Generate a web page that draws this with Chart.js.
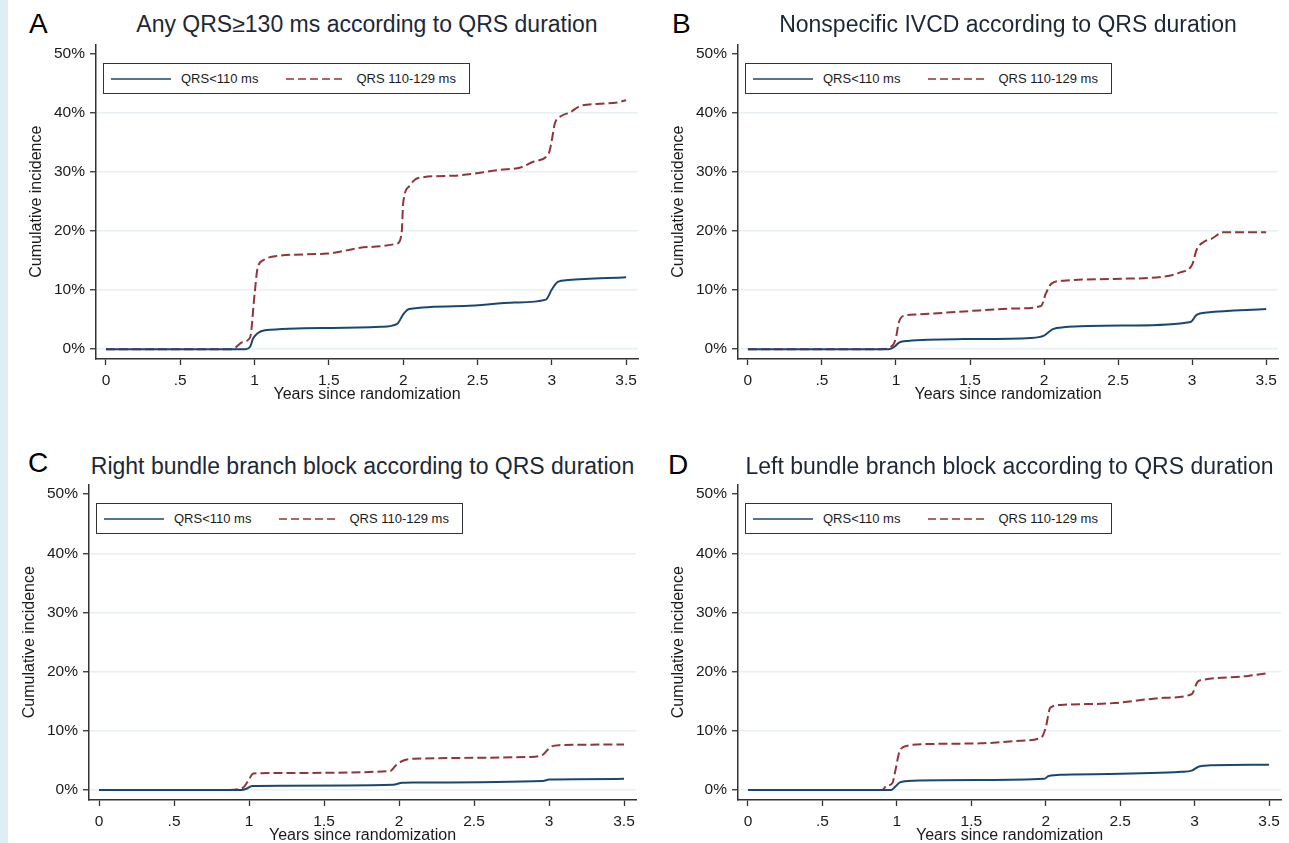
<!DOCTYPE html>
<html>
<head>
<meta charset="utf-8">
<title>Cumulative incidence according to QRS duration</title>
<script src="https://cdn.jsdelivr.net/npm/chart.js@4.4.1/dist/chart.umd.min.js"></script>
<style>
    body {
        margin: 0;
        width: 1289px;
        height: 843px;
        background: #fff;
        position: relative;
        overflow: hidden;
        font-family: "Liberation Sans", Arial, sans-serif;
    }
    .strip { position: absolute; left: 0; top: 0; width: 8px; height: 843px; background: #deeef4; }
    canvas { position: absolute; }
    .letter { position: absolute; font-size: 28px; line-height: 28px; color: #000; }
    .title { position: absolute; font-size: 23px; line-height: 23px; color: #1c2838; text-align: center; white-space: nowrap; }
    .legend {
        position: absolute;
        width: 367px;
        height: 31px;
        box-sizing: border-box;
        border: 1.5px solid #333;
        background: #fff;
        display: flex;
        align-items: center;
        font-size: 13px;
        color: #1a1a1a;
        padding-left: 7px;
    }
    .legend svg { display: block; margin-right: 10px; }
    .legend .gap { width: 28px; }
</style>
</head>
<body>
<div class="strip"></div>
<div id="root"></div>

<script>
// ================================================
// DATA
// ================================================

const yearTicks = [0, 0.5, 1, 1.5, 2, 2.5, 3, 3.5];
const yearTickLabels = ['0', '.5', '1', '1.5', '2', '2.5', '3', '3.5'];
const pctTicks = [0, 10, 20, 30, 40, 50];
const seriesLabels = ['QRS<110 ms', 'QRS 110-129 ms'];
const panelLetters = ['A', 'B', 'C', 'D'];
const panelTitles = [
    'Any QRS\u2265130 ms according to QRS duration',
    'Nonspecific IVCD according to QRS duration',
    'Right bundle branch block according to QRS duration',
    'Left bundle branch block according to QRS duration'
];

// A - any QRS >= 130 ms
const yearsA_short = [0, 0.94, 0.97, 0.99, 1.02, 1.07, 1.52, 1.85, 1.96, 2.0, 2.04, 2.41, 2.75, 2.96, 3.0, 3.04, 3.11, 3.5];
const incA_short   = [0, 0, 0.4, 1.8, 2.7, 3.2, 3.6, 3.8, 4.3, 5.9, 6.8, 7.3, 7.9, 8.4, 10.1, 11.4, 11.7, 12.2];
const yearsA_long  = [0, 0.85, 0.92, 0.97, 1.0, 1.02, 1.06, 1.15, 1.49, 1.76, 1.96, 1.99, 2.0, 2.04, 2.1, 2.34, 2.65, 2.79, 2.88, 2.98, 3.0, 3.02, 3.07, 3.12, 3.19, 3.32, 3.44, 3.5];
const incA_long    = [0, 0, 1.2, 2.0, 9.3, 13.7, 15.1, 15.8, 16.2, 17.3, 17.9, 19.8, 24.8, 27.6, 29.0, 29.4, 30.4, 30.8, 31.8, 33.2, 35.4, 38.2, 39.6, 40.1, 41.2, 41.6, 41.8, 42.2];

// B - nonspecific IVCD
const yearsB_short = [0, 0.95, 0.99, 1.02, 1.08, 1.46, 1.91, 2.0, 2.06, 2.13, 2.58, 2.99, 3.03, 3.1, 3.5];
const incB_short   = [0, 0, 0.4, 1.1, 1.4, 1.7, 1.9, 2.3, 3.4, 3.7, 4.0, 4.6, 5.8, 6.2, 6.8];
const yearsB_long  = [0, 0.9, 0.98, 1.0, 1.02, 1.06, 1.15, 1.46, 1.82, 1.98, 2.01, 2.05, 2.13, 2.47, 2.81, 2.92, 3.0, 3.03, 3.08, 3.13, 3.21, 3.5];
const incB_long    = [0, 0, 0.7, 2.0, 4.6, 5.7, 5.9, 6.4, 6.9, 7.3, 9.3, 11.1, 11.6, 11.9, 12.3, 13.0, 14.3, 16.8, 18.2, 18.7, 19.8, 19.8];

// C - right bundle branch block
const yearsC_short = [0, 0.95, 0.98, 1.02, 1.21, 1.96, 2.02, 2.1, 2.96, 3.0, 3.5];
const incC_short   = [0, 0, 0.2, 0.7, 0.75, 0.9, 1.25, 1.3, 1.55, 1.8, 1.9];
const yearsC_long  = [0, 0.85, 0.96, 0.99, 1.03, 1.21, 1.94, 1.98, 2.03, 2.1, 2.87, 2.96, 3.01, 3.07, 3.5];
const incC_long    = [0, 0, 0.4, 1.4, 2.8, 2.9, 3.2, 4.2, 5.0, 5.3, 5.6, 6.0, 7.3, 7.6, 7.7];

// D - left bundle branch block
const yearsD_short = [0, 0.96, 0.99, 1.02, 1.11, 1.56, 1.99, 2.02, 2.12, 2.91, 2.98, 3.03, 3.13, 3.5];
const incD_short   = [0, 0, 0.6, 1.3, 1.6, 1.7, 1.9, 2.4, 2.6, 3.1, 3.3, 4.0, 4.2, 4.3];
const yearsD_long  = [0, 0.9, 0.93, 0.97, 0.99, 1.02, 1.07, 1.23, 1.56, 1.86, 1.97, 2.0, 2.03, 2.1, 2.46, 2.8, 2.98, 3.02, 3.07, 3.36, 3.5];
const incD_long    = [0, 0, 0.7, 1.2, 3.3, 6.7, 7.5, 7.8, 7.9, 8.4, 8.9, 10.6, 13.9, 14.4, 14.7, 15.6, 16.2, 18.3, 18.7, 19.3, 19.8];

const panelSeries = [
    [[yearsA_short, incA_short], [yearsA_long, incA_long]],
    [[yearsB_short, incB_short], [yearsB_long, incB_long]],
    [[yearsC_short, incC_short], [yearsC_long, incC_long]],
    [[yearsD_short, incD_short], [yearsD_long, incD_long]]
];

// ================================================
// LAYOUT (plot area of each panel, in page pixels)
// ================================================

const layout = [
    { axisX: 96,  right: 638,  top: 40,  bottom: 359, titleTop: 13,  letterX: 29,  letterTop: 10 },
    { axisX: 738, right: 1278, top: 40,  bottom: 359, titleTop: 13,  letterX: 672, letterTop: 10 },
    { axisX: 89,  right: 636,  top: 480, bottom: 800, titleTop: 455, letterX: 28,  letterTop: 449 },
    { axisX: 738, right: 1281, top: 480, bottom: 800, titleTop: 455, letterX: 668, letterTop: 451 }
];

const Y_AXIS_W = 69;
const X_AXIS_H = 45;
const PAD = 10;

const NAVY = '#1a476f';
const MAROON = '#90353b';
const AXIS = '#333333';
const GRID = '#e8f0f3';
const TEXT = '#1a1a1a';
const FONT = '"Liberation Sans", Arial, sans-serif';

// ================================================
// HELPERS
// ================================================

function toPoints(xs, ys) {
    return xs.map((x, i) => ({ x: x, y: ys[i] }));
}

function legendSample(color, dashed) {
    const dash = dashed ? ' stroke-dasharray="8 4"' : '';
    return `<svg width="60" height="4"><line x1="0" y1="2" x2="60" y2="2" stroke="${color}" stroke-width="1.6"${dash}/></svg>`;
}

// ================================================
// PANELS
// ================================================

function createPanel(i) {
    const root = document.getElementById('root');
    const box = layout[i];

    // letter + title
    const letter = document.createElement('div');
    letter.className = 'letter';
    letter.style.left = box.letterX + 'px';
    letter.style.top = box.letterTop + 'px';
    letter.textContent = panelLetters[i];
    root.appendChild(letter);

    const title = document.createElement('div');
    title.className = 'title';
    title.style.left = (box.axisX - 100) + 'px';
    title.style.width = (box.right - box.axisX + 200) + 'px';
    title.style.top = box.titleTop + 'px';
    title.textContent = panelTitles[i];
    root.appendChild(title);

    // canvas
    const canvas = document.createElement('canvas');
    const w = box.right - box.axisX + Y_AXIS_W + PAD;
    const h = box.bottom - box.top + PAD + X_AXIS_H;
    canvas.width = w;
    canvas.height = h;
    canvas.style.left = (box.axisX - Y_AXIS_W) + 'px';
    canvas.style.top = (box.top - PAD) + 'px';
    root.appendChild(canvas);

    const series = panelSeries[i];

    new Chart(canvas, {
        type: 'line',
        data: {
            datasets: [
                {
                    label: seriesLabels[0],
                    data: toPoints(series[0][0], series[0][1]),
                    borderColor: NAVY,
                    borderWidth: 2,
                    pointRadius: 0,
                    cubicInterpolationMode: 'monotone',
                    fill: false
                },
                {
                    label: seriesLabels[1],
                    data: toPoints(series[1][0], series[1][1]),
                    borderColor: MAROON,
                    borderWidth: 2,
                    borderDash: [9, 4],
                    pointRadius: 0,
                    cubicInterpolationMode: 'monotone',
                    fill: false
                }
            ]
        },
        options: {
            responsive: false,
            animation: false,
            layout: { padding: { top: PAD, right: PAD, left: 0, bottom: 0 } },
            plugins: {
                legend: { display: false },
                tooltip: { enabled: false }
            },
            scales: {
                x: {
                    type: 'linear',
                    min: -0.067,
                    max: 3.58,
                    afterBuildTicks: function(scale) {
                        scale.ticks = yearTicks.map(v => ({ value: v }));
                    },
                    afterFit: function(scale) {
                        scale.height = X_AXIS_H;
                    },
                    border: { display: true, color: AXIS, width: 1.5 },
                    grid: {
                        drawOnChartArea: false,
                        drawTicks: true,
                        tickLength: 6,
                        tickColor: AXIS,
                        tickWidth: 1.3
                    },
                    ticks: {
                        autoSkip: false,
                        maxRotation: 0,
                        padding: 6,
                        color: TEXT,
                        font: { family: FONT, size: 15.5 },
                        callback: function(value) {
                            const k = yearTicks.indexOf(value);
                            return k >= 0 ? yearTickLabels[k] : '';
                        }
                    },
                    title: {
                        display: true,
                        text: 'Years since randomization',
                        color: TEXT,
                        padding: { top: 0, bottom: 0 },
                        font: { family: FONT, size: 16 }
                    }
                },
                y: {
                    type: 'linear',
                    min: -1.67,
                    max: 51.67,
                    afterBuildTicks: function(scale) {
                        scale.ticks = pctTicks.map(v => ({ value: v }));
                    },
                    afterFit: function(scale) {
                        scale.width = Y_AXIS_W;
                    },
                    border: { display: true, color: AXIS, width: 1.5 },
                    grid: {
                        color: ctx => (ctx.tick && ctx.tick.value === 50) ? 'rgba(0,0,0,0)' : GRID,
                        lineWidth: 1.5,
                        drawTicks: true,
                        tickLength: 6,
                        tickColor: AXIS,
                        tickWidth: 1.3
                    },
                    ticks: {
                        padding: 5,
                        color: TEXT,
                        font: { family: FONT, size: 15.5 },
                        callback: value => value + '%'
                    },
                    title: {
                        display: true,
                        text: 'Cumulative incidence',
                        color: TEXT,
                        padding: { top: 0, bottom: 0 },
                        font: { family: FONT, size: 16 }
                    }
                }
            }
        }
    });

    // legend box inside plot area
    const legend = document.createElement('div');
    legend.className = 'legend';
    legend.style.left = (box.axisX + 7) + 'px';
    legend.style.top = (box.top + 23) + 'px';
    legend.innerHTML =
        legendSample(NAVY, false) + `<span>${seriesLabels[0].replace('<', '&lt;')}</span>` +
        '<span class="gap"></span>' +
        legendSample(MAROON, true) + `<span>${seriesLabels[1]}</span>`;
    root.appendChild(legend);
}

// ================================================
// INIT
// ================================================

document.addEventListener('DOMContentLoaded', function() {
    for (let i = 0; i < 4; i++) {
        createPanel(i);
    }
});
</script>
</body>
</html>
